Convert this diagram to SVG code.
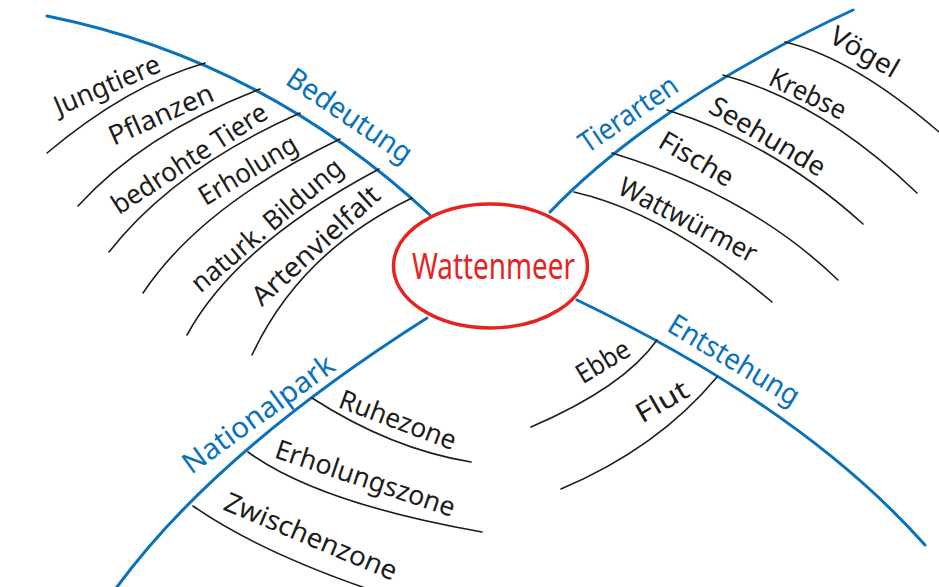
<svg xmlns="http://www.w3.org/2000/svg" width="939" height="587" viewBox="0 0 939 587">
<style>
.bl{fill:none;stroke:#0a72bb;stroke-width:3;stroke-linecap:round}
.sl{fill:none;stroke:#1d1d1b;stroke-width:1.6;stroke-linecap:round}
text{font-family:"Noto Sans","DejaVu Sans",sans-serif;text-anchor:middle}
.lb{font-size:27px;fill:#1d1d1b}
.bt{font-size:29px;fill:#0a72bb}
.ct{font-size:37px;fill:#e52421}
</style>
<rect width="939" height="587" fill="#fff"/>
<g id="connectors">
<path class="bl" d="M47,16 Q262,59 430,215"/>
<path class="bl" d="M550,212 C590,170 680,90 853,10"/>
<path class="bl" d="M427,318 Q216,452 117,587"/>
<path class="bl" d="M577,300 Q804,409 925,545"/>
<path class="sl" d="M205,63 Q128,85 47,153"/>
<path class="sl" d="M260,89 Q143,134 78,206"/>
<path class="sl" d="M300,113 Q174,169 109,252"/>
<path class="sl" d="M340,139 Q201,206 143,293"/>
<path class="sl" d="M379,169 Q236,245 187,335"/>
<path class="sl" d="M412,198 Q300,252 252,355"/>
<path class="sl" d="M785,42 Q853,58 939,132"/>
<path class="sl" d="M723,75 Q822,102 917,193"/>
<path class="sl" d="M667,110 Q772,142 863,224"/>
<path class="sl" d="M612,153 Q750,195 838,280"/>
<path class="sl" d="M574,192 Q666,213 772,302"/>
<path class="sl" d="M312,398 Q391,449 471,462"/>
<path class="sl" d="M248,452 Q318,503 482,532"/>
<path class="sl" d="M193,506 Q265,556 395,598"/>
<path class="sl" d="M657,340 Q624,387 531,427"/>
<path class="sl" d="M717,377 Q658,448 561,489"/>
</g>
<g id="wattenmeer">
<ellipse cx="490.5" cy="266" rx="97" ry="62" fill="#fff" stroke="#e52421" stroke-width="3.5"/>
<text class="ct" x="493.5" y="279" textLength="163" lengthAdjust="spacingAndGlyphs">Wattenmeer</text>
</g>
<g id="bedeutung"><text class="bt" transform="translate(349 116.5) rotate(34)" dy="0.3em" textLength="145" lengthAdjust="spacingAndGlyphs">Bedeutung</text></g>
<g id="jungtiere"><text class="lb" transform="translate(107.5 86) rotate(-23.3)" dy="0.3em" textLength="113" lengthAdjust="spacingAndGlyphs">Jungtiere</text></g>
<g id="pflanzen"><text class="lb" transform="translate(161.5 115.5) rotate(-24.2)" dy="0.3em" textLength="112" lengthAdjust="spacingAndGlyphs">Pflanzen</text></g>
<g id="bedrohte-tiere"><text class="lb" transform="translate(190 159.5) rotate(-33)" dy="0.3em" textLength="180" lengthAdjust="spacingAndGlyphs">bedrohte Tiere</text></g>
<g id="erholung"><text class="lb" transform="translate(248.5 171) rotate(-31)" dy="0.3em" textLength="110" lengthAdjust="spacingAndGlyphs">Erholung</text></g>
<g id="bildung"><text class="lb" transform="translate(267.5 226) rotate(-40.4)" dy="0.3em" textLength="190" lengthAdjust="spacingAndGlyphs">naturk. Bildung</text></g>
<g id="artenvielfalt"><text class="lb" transform="translate(316.5 246.5) rotate(-42.3)" dy="0.3em" textLength="163" lengthAdjust="spacingAndGlyphs">Artenvielfalt</text></g>
<g id="tierarten"><text class="bt" transform="translate(629 115) rotate(-34.3)" dy="0.3em" textLength="113" lengthAdjust="spacingAndGlyphs">Tierarten</text></g>
<g id="voegel"><text class="lb" transform="translate(864 53) rotate(30)" dy="0.3em" textLength="75" lengthAdjust="spacingAndGlyphs">Vögel</text></g>
<g id="krebse"><text class="lb" transform="translate(807.5 95) rotate(26)" dy="0.3em" textLength="82" lengthAdjust="spacingAndGlyphs">Krebse</text></g>
<g id="seehunde"><text class="lb" transform="translate(767 137.5) rotate(30.5)" dy="0.3em" textLength="130" lengthAdjust="spacingAndGlyphs">Seehunde</text></g>
<g id="fische"><text class="lb" transform="translate(696 160) rotate(30.4)" dy="0.3em" textLength="82" lengthAdjust="spacingAndGlyphs">Fische</text></g>
<g id="wattwuermer"><text class="lb" transform="translate(687.5 221) rotate(27.5)" dy="0.3em" textLength="152" lengthAdjust="spacingAndGlyphs">Wattwürmer</text></g>
<g id="nationalpark"><text class="bt" transform="translate(259 415) rotate(-36)" dy="0.3em" textLength="180" lengthAdjust="spacingAndGlyphs">Nationalpark</text></g>
<g id="ruhezone"><text class="lb" transform="translate(397.5 421) rotate(20.6)" dy="0.3em" textLength="123" lengthAdjust="spacingAndGlyphs">Ruhezone</text></g>
<g id="erholungszone"><text class="lb" transform="translate(365 479.5) rotate(18.5)" dy="0.3em" textLength="188" lengthAdjust="spacingAndGlyphs">Erholungszone</text></g>
<g id="zwischenzone"><text class="lb" transform="translate(310.5 537.5) rotate(22.8)" dy="0.3em" textLength="185" lengthAdjust="spacingAndGlyphs">Zwischenzone</text></g>
<g id="entstehung"><text class="bt" transform="translate(733.5 361) rotate(31)" dy="0.3em" textLength="148" lengthAdjust="spacingAndGlyphs">Entstehung</text></g>
<g id="ebbe"><text class="lb" transform="translate(603.5 362.5) rotate(-31)" dy="0.3em" textLength="58" lengthAdjust="spacingAndGlyphs">Ebbe</text></g>
<g id="flut"><text class="lb" transform="translate(662.5 402.5) rotate(-30)" dy="0.3em" textLength="57" lengthAdjust="spacingAndGlyphs">Flut</text></g>
</svg>
